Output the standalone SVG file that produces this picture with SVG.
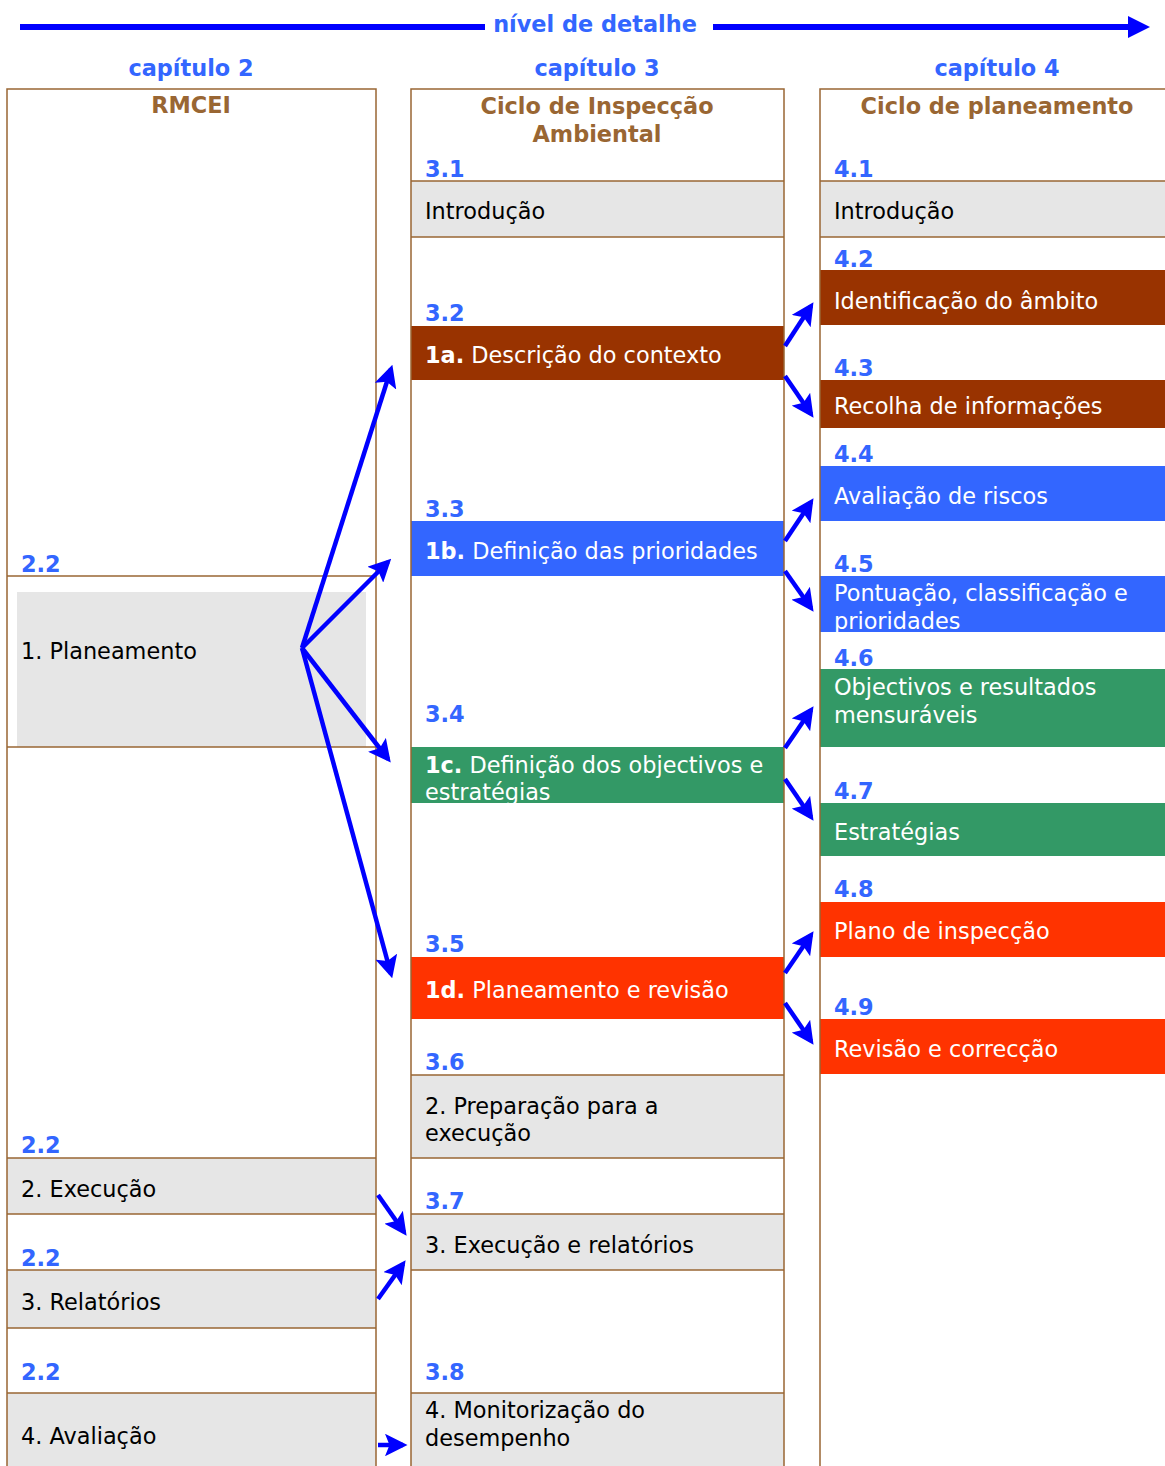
<svg xmlns="http://www.w3.org/2000/svg" width="1165" height="1466" viewBox="0 0 1165 1466">
<style>
.t{font-family:"DejaVu Sans",Verdana,sans-serif;font-size:22.4px;fill:#000}
.w{fill:#fff}
.n{font-family:"DejaVu Sans",Verdana,sans-serif;font-size:22.4px;font-weight:bold;fill:#3366ff}
.h{font-family:"DejaVu Sans",Verdana,sans-serif;font-size:22.4px;font-weight:bold;fill:#996633}
.b{font-weight:bold}
.ln{stroke:#996633;stroke-width:1.5;fill:none}
.g{fill:#e6e6e6}
.br{fill:#993300}.bl{fill:#3366ff}.gr{fill:#339966}.rd{fill:#ff3300}
.ar{stroke:#0000ff;stroke-width:4.5;fill:none;marker-end:url(#ah)}
</style>
<defs>
<marker id="ah" markerWidth="5" markerHeight="5" refX="4" refY="2.5" orient="auto" markerUnits="strokeWidth">
<path d="M0,0 L5,2.5 L0,5 L1,2.5 Z" fill="#0000ff"/>
</marker>
</defs>
<rect width="1165" height="1466" fill="#fff"/>
<g id="header">
<line x1="20" y1="27" x2="485" y2="27" stroke="#0000ff" stroke-width="6"/>
<line x1="713" y1="27" x2="1132" y2="27" stroke="#0000ff" stroke-width="6"/>
<path d="M1128,16 L1150,27 L1128,38 Z" fill="#0000ff"/>
<text class="n" x="595" y="32" text-anchor="middle" font-size="24.5">nível de detalhe</text>
<text class="n" x="191" y="76" text-anchor="middle">capítulo 2</text>
<text class="n" x="597" y="76" text-anchor="middle">capítulo 3</text>
<text class="n" x="997" y="76" text-anchor="middle">capítulo 4</text>
</g>
<g id="col2">
<text class="h" x="191" y="113" text-anchor="middle">RMCEI</text>
<text class="n" x="21" y="572">2.2</text>
<line class="ln" x1="7" y1="576" x2="376" y2="576"/>
<rect class="g" x="17" y="592" width="349" height="155"/>
<text class="t" x="21" y="659">1. Planeamento</text>
<line class="ln" x1="7" y1="747" x2="376" y2="747"/>
<text class="n" x="21" y="1153">2.2</text>
<rect class="g" x="7" y="1158" width="369" height="56"/>
<line class="ln" x1="7" y1="1158" x2="376" y2="1158"/>
<line class="ln" x1="7" y1="1214" x2="376" y2="1214"/>
<text class="t" x="21" y="1197">2. Execução</text>
<text class="n" x="21" y="1266">2.2</text>
<rect class="g" x="7" y="1270" width="369" height="58"/>
<line class="ln" x1="7" y1="1270" x2="376" y2="1270"/>
<line class="ln" x1="7" y1="1328" x2="376" y2="1328"/>
<text class="t" x="21" y="1310">3. Relatórios</text>
<text class="n" x="21" y="1380">2.2</text>
<rect class="g" x="7" y="1393" width="369" height="80"/>
<line class="ln" x1="7" y1="1393" x2="376" y2="1393"/>
<text class="t" x="21" y="1444">4. Avaliação</text>
<rect class="ln" x="7" y="89" width="369" height="1390"/>
</g>
<g id="col3">
<text class="h" x="597" y="114" text-anchor="middle">Ciclo de Inspecção</text>
<text class="h" x="597" y="142" text-anchor="middle">Ambiental</text>
<text class="n" x="425" y="177">3.1</text>
<rect class="g" x="411" y="181" width="373" height="56"/>
<line class="ln" x1="411" y1="181" x2="784" y2="181"/>
<line class="ln" x1="411" y1="237" x2="784" y2="237"/>
<text class="t" x="425" y="219">Introdução</text>
<text class="n" x="425" y="321">3.2</text>
<rect class="br" x="411" y="326" width="373" height="54"/>
<text class="t w" x="425" y="363"><tspan class="b">1a.</tspan> Descrição do contexto</text>
<text class="n" x="425" y="517">3.3</text>
<rect class="bl" x="411" y="521" width="373" height="55"/>
<text class="t w" x="425" y="559"><tspan class="b">1b.</tspan> Definição das prioridades</text>
<text class="n" x="425" y="722">3.4</text>
<rect class="gr" x="411" y="747" width="373" height="56"/>
<text class="t w" x="425" y="773"><tspan class="b">1c.</tspan> Definição dos objectivos e</text>
<text class="t w" x="425" y="800">estratégias</text>
<text class="n" x="425" y="952">3.5</text>
<rect class="rd" x="411" y="957" width="373" height="62"/>
<text class="t w" x="425" y="998"><tspan class="b">1d.</tspan> Planeamento e revisão</text>
<text class="n" x="425" y="1070">3.6</text>
<rect class="g" x="411" y="1075" width="373" height="83"/>
<line class="ln" x1="411" y1="1075" x2="784" y2="1075"/>
<line class="ln" x1="411" y1="1158" x2="784" y2="1158"/>
<text class="t" x="425" y="1114">2. Preparação para a</text>
<text class="t" x="425" y="1141">execução</text>
<text class="n" x="425" y="1209">3.7</text>
<rect class="g" x="411" y="1214" width="373" height="56"/>
<line class="ln" x1="411" y1="1214" x2="784" y2="1214"/>
<line class="ln" x1="411" y1="1270" x2="784" y2="1270"/>
<text class="t" x="425" y="1253">3. Execução e relatórios</text>
<text class="n" x="425" y="1380">3.8</text>
<rect class="g" x="411" y="1393" width="373" height="80"/>
<line class="ln" x1="411" y1="1393" x2="784" y2="1393"/>
<text class="t" x="425" y="1418">4. Monitorização do</text>
<text class="t" x="425" y="1446">desempenho</text>
<rect class="ln" x="411" y="89" width="373" height="1390"/>
</g>
<g id="col4">
<text class="h" x="997" y="114" text-anchor="middle">Ciclo de planeamento</text>
<text class="n" x="834" y="177">4.1</text>
<rect class="g" x="820" y="181" width="345" height="56"/>
<line class="ln" x1="820" y1="181" x2="1165" y2="181"/>
<line class="ln" x1="820" y1="237" x2="1165" y2="237"/>
<text class="t" x="834" y="219">Introdução</text>
<text class="n" x="834" y="267">4.2</text>
<rect class="br" x="820" y="270" width="345" height="55"/>
<text class="t w" x="834" y="309">Identificação do âmbito</text>
<text class="n" x="834" y="376">4.3</text>
<rect class="br" x="820" y="380" width="345" height="48"/>
<text class="t w" x="834" y="414">Recolha de informações</text>
<text class="n" x="834" y="462">4.4</text>
<rect class="bl" x="820" y="466" width="345" height="55"/>
<text class="t w" x="834" y="504">Avaliação de riscos</text>
<text class="n" x="834" y="572">4.5</text>
<rect class="bl" x="820" y="576" width="345" height="56"/>
<text class="t w" x="834" y="601">Pontuação, classificação e</text>
<text class="t w" x="834" y="629">prioridades</text>
<text class="n" x="834" y="666">4.6</text>
<rect class="gr" x="820" y="669" width="345" height="78"/>
<text class="t w" x="834" y="695">Objectivos e resultados</text>
<text class="t w" x="834" y="723">mensuráveis</text>
<text class="n" x="834" y="799">4.7</text>
<rect class="gr" x="820" y="803" width="345" height="53"/>
<text class="t w" x="834" y="840">Estratégias</text>
<text class="n" x="834" y="897">4.8</text>
<rect class="rd" x="820" y="902" width="345" height="55"/>
<text class="t w" x="834" y="939">Plano de inspecção</text>
<text class="n" x="834" y="1015">4.9</text>
<rect class="rd" x="820" y="1019" width="345" height="55"/>
<text class="t w" x="834" y="1057">Revisão e correcção</text>
<rect class="ln" x="820" y="89" width="360" height="1390"/>
</g>
<g id="connectors">
<line class="ar" x1="302" y1="648" x2="391" y2="369"/>
<line class="ar" x1="302" y1="648" x2="388" y2="562"/>
<line class="ar" x1="302" y1="648" x2="388" y2="759"/>
<line class="ar" x1="302" y1="648" x2="391" y2="974"/>
<line class="ar" x1="785" y1="346" x2="811" y2="306"/>
<line class="ar" x1="785" y1="376" x2="811" y2="414"/>
<line class="ar" x1="785" y1="541" x2="811" y2="502"/>
<line class="ar" x1="785" y1="571" x2="811" y2="608"/>
<line class="ar" x1="785" y1="748" x2="811" y2="710"/>
<line class="ar" x1="785" y1="779" x2="811" y2="817"/>
<line class="ar" x1="785" y1="973" x2="811" y2="935"/>
<line class="ar" x1="785" y1="1003" x2="811" y2="1041"/>
<line class="ar" x1="378" y1="1195" x2="404" y2="1232"/>
<line class="ar" x1="378" y1="1299" x2="403" y2="1264"/>
<line class="ar" x1="378" y1="1445" x2="403" y2="1445"/>
</g>
</svg>
